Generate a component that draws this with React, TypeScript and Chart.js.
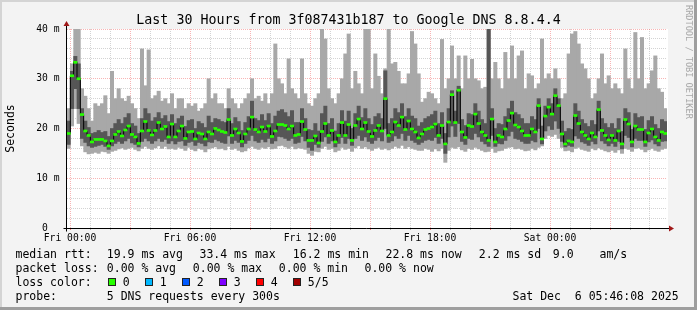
import React, { useEffect, useRef } from 'react';
import { Chart, registerables } from 'chart.js';

Chart.register(...registerables);

// ---- time axis (hours relative to Fri 00:00), one sample per 10 minutes ----
const START_HOUR = -0.15;
const END_HOUR = 29.85;
const STEP_HOURS = 1 / 6;

// ---- median round-trip time per sample (ms) ----
const medianRtt = [
  19.0, 30.6, 33.3, 30.0, 22.8, 19.5, 18.6, 17.3, 17.8, 17.8, 17.8, 17.5, 16.5, 17.5, 18.8, 19.4, 18.5, 19.7, 20.5, 18.8, 18.3, 17.0, 19.5, 21.4, 19.6, 18.7, 19.6, 21.2, 19.9, 20.4, 18.3, 20.9, 18.3, 19.5,
  20.5, 18.0, 19.3, 19.4, 17.9, 19.1, 18.9, 17.9, 19.3, 18.9, 20.0, 19.7, 19.4, 19.2, 21.8, 18.6, 19.9, 19.1, 17.4, 18.9, 19.9, 22.3, 19.8, 19.3, 20.3, 19.4, 20.5, 18.4, 19.5, 20.8, 20.8, 20.6, 19.9, 20.5, 18.6, 18.8,
  21.4, 19.8, 17.6, 17.6, 18.5, 17.1, 19.4, 21.0, 18.6, 19.6, 17.3, 18.6, 21.2, 18.6, 20.8, 17.6, 20.6, 21.9, 19.9, 21.2, 19.4, 18.4, 19.6, 20.6, 19.5, 26.0, 18.6, 19.3, 21.3, 20.6, 22.3, 19.8, 21.5, 19.9, 19.3, 18.1,
  18.9, 19.8, 20.0, 20.3, 20.9, 18.6, 20.6, 16.9, 21.3, 26.8, 21.2, 27.7, 19.3, 18.2, 20.6, 20.4, 22.9, 21.0, 19.3, 18.6, 17.6, 21.9, 17.3, 18.6, 18.3, 19.9, 21.6, 23.1, 20.7, 20.3, 19.5, 18.6, 18.6, 19.9, 19.3, 24.6,
  17.9, 22.5, 24.3, 22.9, 26.6, 24.6, 18.9, 16.9, 17.5, 17.3, 22.6, 21.0, 19.3, 18.6, 17.9, 19.1, 18.3, 23.8, 19.6, 18.6, 17.7, 18.6, 17.6, 19.5, 16.9, 21.8, 20.9, 17.3, 20.5, 19.8, 19.8, 17.3, 19.1, 19.9, 18.3, 17.6, 19.3, 19.0,
];

// ---- fastest ping per sample (ms) ----
const pingMin = [
  16.0, 20.5, 24.0, 21.0, 16.5, 15.3, 14.9, 15.0, 15.2, 15.0, 15.4, 15.3, 15.0, 15.4, 15.6, 15.9, 16.1, 15.8, 16.0, 16.2, 15.8, 15.5, 16.0, 16.4, 16.0, 15.8, 16.1, 16.5, 16.0, 16.4, 15.9, 16.0, 15.8, 16.2,
  16.0, 15.6, 16.2, 15.8, 15.5, 16.0, 15.8, 15.3, 15.9, 16.1, 16.3, 15.9, 16.0, 15.7, 16.4, 15.8, 16.0, 15.6, 15.3, 15.5, 16.1, 16.4, 16.0, 15.8, 16.2, 16.0, 16.3, 15.9, 16.0, 16.5, 16.6, 16.3, 16.0, 16.4, 15.9, 16.1,
  16.0, 15.8, 15.0, 14.6, 15.4, 15.3, 16.0, 16.4, 15.8, 16.0, 15.3, 15.6, 16.2, 15.8, 16.0, 15.4, 16.1, 16.5, 16.0, 16.3, 15.9, 15.6, 16.0, 16.2, 15.8, 16.0, 15.7, 16.0, 16.4, 16.1, 16.6, 16.0, 16.3, 16.0, 15.8, 15.6,
  15.6, 16.0, 15.8, 15.4, 15.9, 15.5, 16.0, 13.2, 15.6, 16.2, 16.0, 16.3, 15.7, 15.4, 16.0, 15.8, 16.2, 15.9, 15.6, 15.3, 15.4, 16.0, 15.2, 15.5, 15.6, 16.0, 16.2, 16.3, 15.9, 16.0, 15.8, 15.5, 15.6, 16.0, 15.7, 16.2,
  16.5, 18.0, 18.6, 18.4, 18.8, 18.0, 16.2, 15.5, 15.6, 15.3, 16.0, 16.2, 15.8, 15.6, 15.4, 16.0, 15.7, 16.1, 15.8, 15.5, 15.3, 15.6, 15.2, 15.7, 15.0, 16.0, 15.8, 15.4, 16.0, 16.1, 15.8, 15.3, 15.7, 16.0, 15.6, 15.4, 15.8, 16.0,
];

// ---- second fastest ping per sample (ms) ----
const pingLowMid = [
  16.8, 24.0, 28.0, 24.0, 18.0, 17.2, 16.5, 16.2, 16.4, 16.6, 16.8, 16.4, 15.8, 16.5, 17.0, 17.4, 17.0, 17.5, 18.0, 17.1, 16.8, 16.3, 17.4, 18.0, 17.5, 17.0, 17.5, 18.0, 17.4, 17.8, 17.0, 17.5, 16.9, 17.4,
  17.5, 16.6, 17.2, 17.4, 16.6, 17.2, 17.0, 16.5, 17.3, 17.2, 17.8, 17.5, 17.2, 17.0, 18.5, 17.0, 17.6, 17.2, 16.3, 17.0, 17.6, 18.6, 17.5, 17.2, 17.8, 17.3, 18.0, 17.0, 17.5, 18.4, 18.3, 18.0, 17.6, 18.0, 17.0, 17.2,
  18.4, 17.5, 16.2, 15.6, 16.8, 16.2, 17.4, 18.3, 17.0, 17.5, 16.3, 17.0, 18.2, 17.0, 18.0, 16.6, 18.0, 18.6, 17.6, 18.3, 17.4, 17.0, 17.6, 18.2, 17.5, 20.0, 17.2, 17.5, 18.5, 18.0, 19.0, 17.6, 18.6, 17.6, 17.2, 16.8,
  17.2, 17.6, 17.8, 17.6, 18.2, 17.0, 18.0, 15.0, 18.3, 20.5, 18.4, 21.0, 17.4, 16.8, 18.0, 17.8, 19.0, 18.3, 17.4, 16.9, 16.4, 18.6, 16.4, 17.0, 16.9, 17.6, 18.5, 19.4, 18.0, 17.8, 17.4, 17.0, 17.0, 17.6, 17.3, 20.0,
  16.9, 19.5, 20.5, 19.8, 21.5, 20.0, 17.4, 16.3, 16.6, 16.4, 18.5, 18.0, 17.3, 17.0, 16.6, 17.4, 16.9, 19.5, 17.5, 17.0, 16.5, 17.0, 16.4, 17.4, 15.9, 18.6, 18.2, 16.3, 18.0, 17.6, 17.6, 16.4, 17.3, 17.7, 16.9, 16.5, 17.4, 17.5,
];

// ---- second slowest ping per sample (ms) ----
const pingHighMid = [
  21.5, 31.5, 34.5, 33.0, 24.0, 21.5, 20.2, 19.0, 19.2, 19.6, 19.2, 19.4, 18.4, 20.0, 21.0, 21.8, 21.0, 22.2, 23.0, 21.0, 20.5, 19.0, 22.0, 24.0, 23.0, 21.5, 22.2, 23.2, 22.0, 22.6, 21.4, 22.8, 21.0, 22.0,
  22.5, 20.4, 21.6, 21.8, 20.0, 21.4, 21.0, 20.2, 22.5, 21.2, 22.0, 21.8, 21.4, 21.2, 24.0, 21.0, 22.2, 21.4, 19.6, 21.2, 22.4, 25.5, 22.0, 21.6, 22.8, 21.6, 23.0, 21.0, 22.5, 23.5, 23.8, 23.2, 22.4, 23.6, 21.2, 21.2,
  24.0, 22.0, 19.8, 19.6, 21.0, 19.5, 23.0, 24.5, 21.0, 22.0, 19.5, 21.0, 23.6, 21.5, 23.5, 20.0, 23.0, 24.5, 22.2, 24.0, 22.0, 20.8, 22.4, 23.0, 22.0, 31.6, 21.0, 22.0, 24.0, 23.2, 25.0, 22.4, 24.0, 22.5, 22.0, 20.5,
  21.2, 22.0, 22.4, 22.8, 23.5, 21.0, 23.2, 19.0, 24.0, 27.6, 23.5, 28.5, 21.8, 20.6, 23.0, 22.8, 25.0, 23.5, 21.8, 21.0, 40.0, 24.0, 20.0, 21.0, 20.8, 22.4, 24.0, 25.5, 23.2, 22.8, 22.0, 21.0, 21.0, 22.4, 21.8, 26.0,
  20.5, 24.5, 26.0, 25.0, 28.0, 26.0, 21.5, 19.4, 20.0, 19.8, 25.0, 23.5, 21.8, 21.0, 20.4, 21.6, 20.8, 25.5, 22.0, 21.0, 20.2, 21.0, 20.0, 22.0, 19.4, 24.0, 23.2, 19.8, 23.0, 22.2, 22.4, 19.8, 21.6, 22.4, 20.8, 20.0, 21.8, 21.4,
];

// ---- slowest ping per sample (ms) ----
const pingMax = [
  24, 33, 45, 45, 28, 26.5, 24, 21.5, 25, 24.5, 25, 26.6, 23, 31.5, 26, 28, 26, 25.5, 26.5, 25, 24, 22, 36, 28.6, 35.8, 26, 26.6, 27.5, 25.5, 26, 25, 27, 24, 26,
  26, 24, 25, 24.5, 25, 23.5, 24, 25, 30, 26, 27, 25, 25, 24, 28, 26, 25, 24, 25, 26, 27, 30, 26, 26.5, 25.5, 27, 25, 27, 37, 30, 29, 27, 34, 28, 27, 26,
  34, 27, 25, 24.5, 26, 27, 45, 38, 28, 26, 25, 27, 30, 35, 39, 28, 31.5, 29, 27, 45, 40, 28, 35, 30.5, 27, 32, 45, 33, 33.3, 31.5, 29, 29, 31, 39.5, 37, 31,
  25.3, 26, 27.3, 27, 26, 25, 37.9, 28, 30, 36.6, 30, 34.6, 28, 34.6, 30, 33.9, 30, 29.6, 28, 28.3, 45, 30, 33.3, 30, 28, 35.3, 30, 36.6, 30, 34.6, 35.6, 28, 31, 30.6, 28, 29,
  38, 30, 31, 30, 32, 30, 26, 27, 35, 39, 39.5, 37, 33, 32, 30, 26, 27, 30, 35, 29, 30.6, 28, 29, 28, 27, 36, 30, 28, 39.3, 30, 38.3, 28, 29, 31.6, 34.6, 28, 27.3, 24,
];

// ---- axis ticks ----
const xLabelHours = [0, 6, 12, 18, 24];
const xLabels = ['Fri 00:00', 'Fri 06:00', 'Fri 12:00', 'Fri 18:00', 'Sat 00:00'];
const yLabelValues = [0, 10, 20, 30, 40];
const yLabels = ['0  ', '10 m', '20 m', '30 m', '40 m'];

// ---- texts ----
const titleText = 'Last 30 Hours from 3f087431b187 to Google DNS 8.8.4.4';
const yAxisTitle = 'Seconds';
const creditText = 'RRDTOOL / TOBI OETIKER';
const rttLegend = ['median rtt:', '19.9 ms avg', '33.4 ms max', '16.2 ms min', '22.8 ms now', '2.2 ms sd', '9.0', 'am/s'];
const lossLegend = ['packet loss:', '0.00 % avg', '0.00 % max', '0.00 % min', '0.00 % now'];
const lossColorTitle = 'loss color:';
const lossColorLabels = ['0', '1', '2', '3', '4', '5/5'];
const lossColors = ['#26ff00', '#00b8ff', '#0059ff', '#7e00ff', '#ff0000', '#a10000'];
const probeLegend = ['probe:', '5 DNS requests every 300s'];
const dateText = 'Sat Dec  6 05:46:08 2025';

const FONT = "'DejaVu Sans Mono', monospace";
const MAJOR_GRID = 'rgba(240,90,90,0.45)';
const MINOR_GRID = 'rgba(130,130,130,0.35)';

const rrdPlugin = {
  id: 'rrdDecor',
  beforeDraw(chart: any) {
    const { ctx, width, height, chartArea: ca } = chart;
    ctx.save();
    ctx.fillStyle = '#f3f3f3';
    ctx.fillRect(0, 0, width, height);
    ctx.fillStyle = '#d4d4d4';
    ctx.fillRect(0, 0, width, 2);
    ctx.fillRect(0, 0, 2, height);
    ctx.fillStyle = '#9e9e9e';
    ctx.fillRect(0, height - 3, width, 3);
    ctx.fillRect(width - 3, 0, 3, height);
    ctx.fillStyle = '#ffffff';
    ctx.fillRect(ca.left, ca.top, ca.right - ca.left + 1, ca.bottom - ca.top);
    ctx.restore();
  },
  afterDraw(chart: any) {
    const { ctx, chartArea: ca } = chart;
    ctx.save();
    // axes
    const axX = Math.round(ca.left) - 0.5;
    const axY = Math.round(ca.bottom) + 0.5;
    ctx.strokeStyle = '#000';
    ctx.lineWidth = 1;
    ctx.beginPath();
    ctx.moveTo(axX, axY + 3);
    ctx.lineTo(axX, ca.top - 4);
    ctx.moveTo(axX - 3, axY);
    ctx.lineTo(ca.right + 2, axY);
    ctx.stroke();
    ctx.fillStyle = '#a01818';
    ctx.beginPath();
    ctx.moveTo(axX, ca.top - 8);
    ctx.lineTo(axX - 3, ca.top - 3);
    ctx.lineTo(axX + 3, ca.top - 3);
    ctx.closePath();
    ctx.fill();
    ctx.beginPath();
    ctx.moveTo(ca.right + 7, axY);
    ctx.lineTo(ca.right + 2, axY - 3);
    ctx.lineTo(ca.right + 2, axY + 3);
    ctx.closePath();
    ctx.fill();

    // title
    ctx.fillStyle = '#000';
    ctx.font = `13.3px ${FONT}`;
    ctx.textAlign = 'center';
    ctx.textBaseline = 'alphabetic';
    ctx.fillText(titleText, 348.5, 24);

    // y title
    ctx.save();
    ctx.translate(11, (ca.top + ca.bottom) / 2);
    ctx.rotate(-Math.PI / 2);
    ctx.font = `11.5px ${FONT}`;
    ctx.textAlign = 'center';
    ctx.textBaseline = 'middle';
    ctx.fillText(yAxisTitle, 0, 0);
    ctx.restore();

    // credit
    ctx.save();
    ctx.translate(688, 5);
    ctx.rotate(Math.PI / 2);
    ctx.font = `8.6px ${FONT}`;
    ctx.fillStyle = '#a8a8a8';
    ctx.textAlign = 'left';
    ctx.textBaseline = 'middle';
    ctx.fillText(creditText, 0, 0);
    ctx.restore();

    // legend
    ctx.font = `11.5px ${FONT}`;
    ctx.textAlign = 'left';
    ctx.textBaseline = 'alphabetic';
    ctx.fillStyle = '#000';
    const rttX = [15.5, 106.8, 199.5, 292.8, 385.5, 478.8, 552.8, 599.5];
    rttLegend.forEach((t, i) => ctx.fillText(t, rttX[i], 258));
    const lossX = [15.5, 106.8, 192.8, 278.8, 364.5];
    lossLegend.forEach((t, i) => ctx.fillText(t, lossX[i], 272));
    ctx.fillText(lossColorTitle, 15.5, 286);
    lossColorLabels.forEach((t, i) => {
      const bx = 108 + i * 37;
      ctx.fillStyle = lossColors[i];
      ctx.fillRect(bx, 278, 8, 8);
      ctx.strokeStyle = '#222';
      ctx.strokeRect(bx + 0.5, 278.5, 7, 7);
      ctx.fillStyle = '#000';
      ctx.fillText(t, bx + 14.8, 286);
    });
    ctx.fillText(probeLegend[0], 15.5, 300);
    ctx.fillText(probeLegend[1], 106.8, 300);
    ctx.fillText(dateText, 512.5, 300);
    ctx.restore();
  },
};

export default function App() {
  const canvasRef = useRef<HTMLCanvasElement | null>(null);

  useEffect(() => {
    const canvas = canvasRef.current;
    if (!canvas) return;
    const xs = medianRtt.map((_, i) => START_HOUR + (i + 0.5) * STEP_HOURS);
    const hourTicks = Array.from({ length: 30 }, (_, h) => h);
    const mmTicks = Array.from({ length: 21 }, (_, k) => k * 2);

    const chart = new Chart(canvas, {
      type: 'bar',
      data: {
        datasets: [
          {
            type: 'bar',
            label: 'median',
            data: xs.map((x, i) => ({ x, y: [medianRtt[i] - 0.2, medianRtt[i] + 0.2] })),
            backgroundColor: '#26ff00',
            borderWidth: 0,
            grouped: false,
            barPercentage: 1,
            categoryPercentage: 1,
            order: 0,
          } as any,
          {
            type: 'line',
            label: 'median step',
            data: xs.map((x, i) => ({ x, y: medianRtt[i] })),
            borderColor: '#000000',
            borderWidth: 1,
            pointRadius: 0,
            stepped: 'middle',
            fill: false,
            order: 1,
          } as any,
          {
            type: 'bar',
            label: 'inner smoke',
            data: xs.map((x, i) => ({ x, y: [pingLowMid[i], pingHighMid[i]] })),
            backgroundColor: '#565656',
            borderWidth: 0,
            grouped: false,
            barPercentage: 1,
            categoryPercentage: 1,
            order: 2,
          } as any,
          {
            type: 'bar',
            label: 'outer smoke',
            data: xs.map((x, i) => ({ x, y: [pingMin[i], pingMax[i]] })),
            backgroundColor: '#a8a8a8',
            borderWidth: 0,
            grouped: false,
            barPercentage: 1,
            categoryPercentage: 1,
            order: 3,
          } as any,
        ],
      },
      options: {
        responsive: false,
        animation: false,
        events: [],
        layout: { padding: { left: 0, right: 30, top: 29, bottom: 0 } },
        plugins: {
          legend: { display: false },
          tooltip: { enabled: false },
          title: { display: false },
        },
        scales: {
          x: {
            type: 'linear',
            min: START_HOUR,
            max: END_HOUR,
            offset: false,
            afterBuildTicks: (s: any) => {
              s.ticks = hourTicks.map((v) => ({ value: v }));
            },
            afterFit: (s: any) => {
              s.height = 82;
            },
            grid: {
              offset: false,
              lineWidth: 1,
              drawTicks: true,
              tickLength: 2,
              color: (c: any) => (c.tick && c.tick.value % 3 === 0 ? MAJOR_GRID : MINOR_GRID),
              tickColor: (c: any) => (c.tick && c.tick.value % 3 === 0 ? 'rgba(240,90,90,0.8)' : 'rgba(130,130,130,0.6)'),
            },
            border: { display: false, dash: [1, 1] },
            ticks: {
              autoSkip: false,
              maxRotation: 0,
              minRotation: 0,
              padding: 3,
              color: '#000',
              font: { family: FONT, size: 9.7 },
              callback: (v: any) => {
                const k = xLabelHours.indexOf(Number(v));
                return k >= 0 ? xLabels[k] : '';
              },
            },
          },
          y: {
            type: 'linear',
            min: 0,
            max: 40,
            afterBuildTicks: (s: any) => {
              s.ticks = mmTicks.map((v) => ({ value: v }));
            },
            afterFit: (s: any) => {
              s.width = 67;
            },
            grid: {
              lineWidth: 1,
              drawTicks: false,
              color: (c: any) => (c.tick && c.tick.value % 10 === 0 ? MAJOR_GRID : MINOR_GRID),
            },
            border: { display: false, dash: [1, 1] },
            ticks: {
              autoSkip: false,
              padding: 7.5,
              color: '#000',
              font: { family: FONT, size: 9.7 },
              callback: (v: any) => {
                const k = yLabelValues.indexOf(Number(v));
                return k >= 0 ? yLabels[k] : '';
              },
            },
          },
        },
      } as any,
      plugins: [rrdPlugin],
    });
    return () => chart.destroy();
  }, []);

  return (
    <div style={{ position: 'absolute', left: 0, top: 0, width: 697, height: 310 }}>
      <canvas ref={canvasRef} width={697} height={310} style={{ display: 'block' }} />
    </div>
  );
}
